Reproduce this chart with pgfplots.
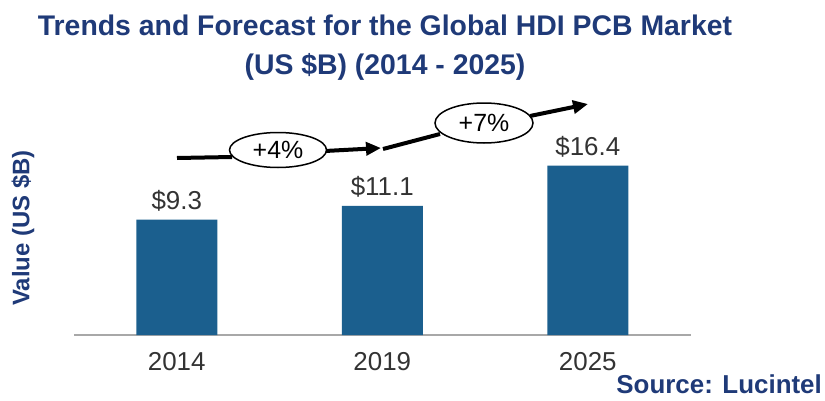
\documentclass[border=0pt]{standalone}
\usepackage{pgfplots}
\pgfplotsset{compat=1.18}
\usepackage{pgfplotstable}
\usepackage{fontspec}
\setmainfont{Liberation Sans}
\usetikzlibrary{arrows.meta,shapes.geometric}
\definecolor{navy}{HTML}{1F3A78}
\definecolor{barblue}{HTML}{1B5F8E}
\definecolor{txtgray}{HTML}{333333}
\definecolor{axgray}{HTML}{A8A8A8}

\pgfplotstableread{
x v
0 9.3
1 11.1
2 16.4
}\datatable

\begin{document}
\begin{tikzpicture}[x=1bp,y=1bp]
\useasboundingbox (0,0) rectangle (825,400);
\begin{axis}[
  at={(74bp,65bp)}, anchor=south west,
  scale only axis, width=616.5bp, height=250bp,
  xmin=-0.5, xmax=2.5, ymin=0, ymax=32.85,
  axis x line*=bottom, axis y line=none,
  x axis line style={draw=axgray, line width=2bp},
  xtick={0,1,2}, xticklabels={2014,2019,2025},
  xtick style={draw=none},
  xticklabel style={anchor=base, yshift=-35bp, text=txtgray, font=\fontsize{26}{30}\selectfont},
  ytick=\empty,
  clip=false,
  point meta=explicit,
  /pgf/number format/assume math mode=true,
  nodes near coords={\$\pgfmathprintnumber[fixed,precision=1,fixed zerofill,assume math mode=true]{\pgfplotspointmeta}},
  nodes near coords style={anchor=base, yshift=10bp, text=txtgray, font=\fontsize{26}{30}\selectfont},
]
\addplot[ybar, bar width=81bp, fill=barblue, draw=none]
  table[x=x, y expr=\thisrow{v}+5.86, meta=v] {\datatable};
\end{axis}

% growth arrows
\draw[line width=4bp] (177,242) -- (232,243);
\draw[line width=4bp, -{Triangle[length=15bp,width=13bp]}] (325,249) -- (381,252);
\node[draw, line width=1.5bp, fill=white, ellipse, minimum width=97bp, minimum height=35bp, inner sep=0pt,
      font=\fontsize{25}{28}\selectfont] at (278,250) {+4\%};
\draw[line width=4bp] (383,251) -- (440,266);
\draw[line width=4bp, -{Triangle[length=15bp,width=13bp]}] (530,284) -- (588,296);
\node[draw, line width=1.5bp, fill=white, ellipse, minimum width=98bp, minimum height=40bp, inner sep=0pt,
      font=\fontsize{25}{28}\selectfont] at (484,277) {+7\%};

% y label
\node[rotate=90, text=navy, font=\bfseries\fontsize{24}{28}\selectfont] at (23,172) {Value (US \$B)};

% title
\node[anchor=base, text=navy, font=\bfseries\fontsize{28.5}{34}\selectfont] at (385,365) {Trends and Forecast for the Global HDI PCB Market};
\node[anchor=base, text=navy, font=\bfseries\fontsize{28.5}{34}\selectfont] at (385,326) {(US \$B) (2014 - 2025)};

% source
\node[anchor=base east, inner sep=0pt, text=navy, font=\bfseries\fontsize{26}{30}\selectfont] at (822,7) {Source: Lucintel};
\end{tikzpicture}
\end{document}
